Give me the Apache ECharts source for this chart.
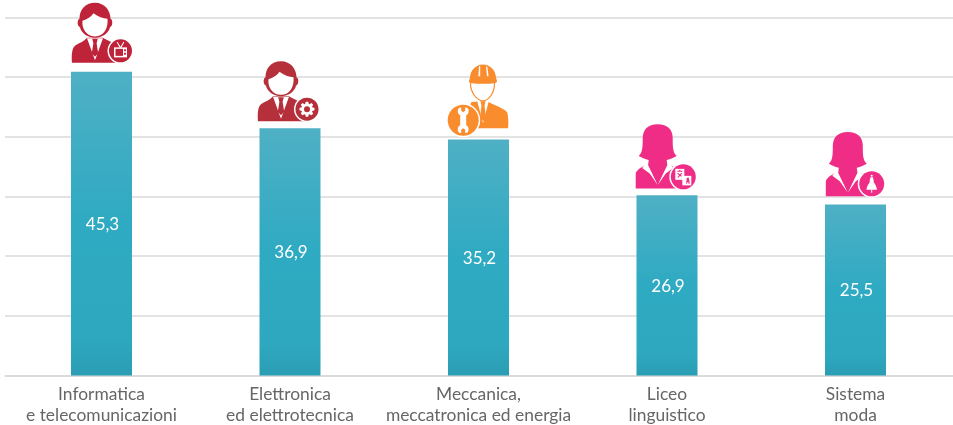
<!DOCTYPE html>
<html>
<head>
<meta charset="utf-8">
<style>html,body{margin:0;padding:0;background:#fff}#c{width:953px;height:425px}</style>
<script src="https://cdn.jsdelivr.net/npm/echarts@6/dist/echarts.min.js"></script>
</head>
<body>
<div id="c"></div>
<script>
const categories = ['Informatica\ne telecomunicazioni','Elettronica\ned elettrotecnica','Meccanica,\nmeccatronica ed energia','Liceo\nlinguistico','Sistema\nmoda'];
const values = [45.3, 36.9, 35.2, 26.9, 25.5];
const figures = ['man','man','worker','woman','woman'];
const badges = ['tv','gear','wrench','translate','dress'];

const WHITE = '#fff';
const iconStyle = [
  {color:'#bf2339', person:[-6.5,-9], badge:[19,-21], r:11.5},
  {color:'#b5303a', person:[-9,-7], badge:[17,-19], r:11.5},
  {color:'#f98c2c', person:[4.5,-11.3], badge:[-15.3,-19.3], r:15.5},
  {color:'#f02d86', person:[-9.3,-6.7], badge:[16.3,-18.3], r:12.5},
  {color:'#f02d86', person:[-7.7,-8.3], badge:[16.2,-20.7], r:12.5}
];
function p(d, fill, extra){ return Object.assign({type:'path', shape:{pathData:d}, style:{fill:fill}}, extra||{}); }

function figure(kind, c){
  if(kind==='man') return [
    p('M-23,0 C-23.5,-6 -23.5,-14 -20,-17 C-16,-20 -11,-21 -8,-25 L8,-25 C12,-22 20,-20 22,-17 L24,0 Z', c),
    p('M-8,-24.5 L0,-2.5 L8,-24.5 Z', WHITE),
    p('M-2.8,-24 L2.8,-24 L1.6,-19.5 L3.2,-9.5 L0,-6 L-3.2,-9.5 L-1.6,-19.5 Z', c),
    p('M0,-60 C10,-60 15.5,-52 15.5,-44 C18,-43 18,-37 15,-35.5 C14,-30.5 8,-25 0,-25 C-8,-25 -14,-30.5 -15,-35.5 C-18,-37 -18,-43 -15.5,-44 C-15.5,-53 -10,-60 0,-60 Z', c),
    p('M-12.5,-42 C-7,-44 -3.5,-46 -1.5,-49.5 C3,-46 8,-44.5 12.5,-44 C13.5,-35 9,-26.3 0,-26.3 C-9,-26.3 -13.5,-35 -12.5,-42 Z', WHITE)
  ];
  if(kind==='worker') return [
    p('M-12,-26 L-4,-27 L4,-27 L10,-24 C16,-21 23,-19 24.5,-15 C25.5,-9 25.5,-3 25,0 L-16,0 Z', c),
    p('M-6,-28 L0,-5 L6,-28 Z', WHITE),
    p('M-2.6,-27 L2.6,-27 L1.5,-22.5 L3,-11 L0,-7 L-3,-11 L-1.5,-22.5 Z', c),
    p('M-12.5,-46 C-13,-36 -6,-27.5 0,-27.5 C6,-27.5 12,-36 11.5,-46 Z', WHITE, {style:{fill:WHITE, stroke:c, lineWidth:1.2}}),
    p('M-14,-47 L-13,-51 C-12.5,-58 -7,-63.7 0,-63.7 C7,-63.7 12.5,-58 13,-51 L14,-47 C14,-45 10,-44.5 0,-44.5 C-10,-44.5 -14,-45 -14,-47 Z', c),
    p('M-4,-62 L-2.8,-62 L-2.8,-52 L-4.6,-52 Z M3,-62 L4.4,-61 L5.6,-52 L4,-52 Z', WHITE)
  ];
  return [
    p('M-22,0 L-22,-14 C-22,-18 -18,-20 -12,-24 L12,-24 C18,-20 22,-18 22,-14 L22,0 Z', c),
    p('M-11,-26.5 L0,-3.5 L-8,-15 L-15.5,-20.5 Z', WHITE),
    p('M11,-26.5 L0,-3.5 L8,-15 L15.5,-20.5 Z', WHITE),
    p('M0,-64.3 C10,-64.3 15,-59 15,-50 C15,-42 15,-36 19,-32.5 C15,-30 11,-29 9,-28.5 L9.5,-24 L0,-4.5 L-9.5,-24 L-9,-28.5 C-11,-29 -15,-30 -19,-32.5 C-15,-36 -15,-42 -15,-50 C-15,-59 -10,-64.3 0,-64.3 Z', c)
  ];
}

function gearPath(teeth, ro, ri){
  let d = '';
  const step = Math.PI*2/teeth;
  for(let i=0;i<teeth;i++){
    const a = i*step;
    const pts = [[ri,a-step*0.42],[ro,a-step*0.2],[ro,a+step*0.2],[ri,a+step*0.42]];
    pts.forEach((q,k)=>{ d += ((i===0&&k===0)?'M':'L') + (q[0]*Math.cos(q[1])).toFixed(2)+','+(q[0]*Math.sin(q[1])).toFixed(2)+' '; });
  }
  return d+'Z';
}

function glyph(kind, c){
  if(kind==='tv') return [
    p('M-6.5,-3.5 L6.5,-3.5 L6.5,6.5 L-6.5,6.5 Z', WHITE),
    p('M-5,-2 L2.5,-2 L2.5,5 L-5,5 Z', c),
    p('M3.6,-1.5 L5.4,-1.5 L5.4,0.5 L3.6,0.5 Z M3.6,2 L5.4,2 L5.4,4 L3.6,4 Z', c),
    p('M-3.8,-8.5 L-3,-9 L0,-4 L3,-9 L3.8,-8.5 L0.8,-3 L-0.8,-3 Z', WHITE)
  ];
  if(kind==='gear') return [
    p(gearPath(8,7.6,5.6), WHITE),
    {type:'circle', shape:{cx:0,cy:0,r:3}, style:{fill:c}}
  ];
  if(kind==='wrench') return [
    p('M-3,-3 L-3,-5 C-5.5,-6 -6.5,-10 -4,-12.5 L-2,-12.8 L-2,-9.5 L0,-8 L2,-9.5 L2,-12.8 L4,-12.5 C6.5,-10 5.5,-6 3,-5 L3,5 C5.5,6 6.5,10 4,12.5 L2,12.8 L2,9.5 L0,8 L-2,9.5 L-2,12.8 L-4,12.5 C-6.5,10 -5.5,6 -3,5 Z', WHITE)
  ];
  if(kind==='translate') return [
    p('M-8,-8 L1,-8 L1,3 L-8,3 Z', WHITE),
    p('M-6,-6 L-1,-6 L-1,-5 L-6,-5 Z M-4,-7 L-3,-7 L-3,-5 L-4,-5 Z M-5.5,-4 L-1.5,-1 L-2,0 L-6,-3 Z M-2,-4 L-1,-3.5 L-5,1 L-6,0.5 Z', c),
    p('M-1,-1 L8,-1 L8,8.5 L-1,8.5 Z', WHITE),
    p('M2.8,7 L3.5,1 L5.5,1 L6.5,7 L5.3,7 L5.1,5.3 L3.9,5.3 L3.7,7 Z', c)
  ];
  return [
    {type:'circle', shape:{cx:0,cy:-8,r:1}, style:{fill:WHITE}},
    p('M-1.3,-6.5 L1.3,-6.5 C1.8,-4 2.2,-3 2,-1.5 C4,1 5,3.5 5.3,6 L-5.3,6 C-5,3.5 -4,1 -2,-1.5 C-2.2,-3 -1.8,-4 -1.3,-6.5 Z', WHITE),
    p('M-0.5,6 L0.5,6 L0.5,9 L-0.5,9 Z', WHITE)
  ];
}

function renderIcon(params, api){
  const i = params.dataIndex;
  const top = api.coord([api.value(0), api.value(1)]);
  const s = iconStyle[i];
  return {
    type:'group', x:top[0], y:top[1],
    children:[
      {type:'group', x:s.person[0], y:s.person[1], children:figure(figures[i], s.color)},
      {type:'group', x:s.badge[0], y:s.badge[1], children:[
        {type:'circle', shape:{cx:0,cy:0,r:s.r+1.5}, style:{fill:WHITE}},
        {type:'circle', shape:{cx:0,cy:0,r:s.r}, style:{fill:s.color}}
      ].concat(glyph(badges[i], s.color))}
    ]
  };
}

const points = values.map((v,i)=>[i,v]);
const chart = echarts.init(document.getElementById('c'), null, {renderer:'canvas'});
chart.setOption({
  animation:false,
  backgroundColor:'#fff',
  grid:{left:5, right:0, top:17.6, bottom:49.6, containLabel:false, outerBoundsMode:'none'},
  xAxis:{
    type:'value', min:-0.5119, max:4.5172,
    axisLine:{show:true, onZero:false, lineStyle:{color:'#d9d9d9', width:1.5}},
    axisTick:{show:false}, splitLine:{show:false},
    axisLabel:{
      customValues:[0,1,2,3,4],
      formatter:v=>categories[v],
      color:'#666', fontFamily:'Lato', fontSize:17.4, lineHeight:21, margin:8, align:'center'
    }
  },
  yAxis:{
    type:'value', min:0, max:53.4, interval:8.9,
    axisLine:{show:false}, axisTick:{show:false}, axisLabel:{show:false},
    splitLine:{show:true, lineStyle:{color:'#e3e3e3', width:2}}
  },
  series:[
    {
      type:'bar', data:points, barWidth:61,
      itemStyle:{color:{type:'linear',x:0,y:0,x2:0,y2:1,colorStops:[
        {offset:0,color:'#4fb0c5'},{offset:0.5,color:'#2eaac2'},{offset:0.88,color:'#2ea8bf'},{offset:1,color:'#2a9db3'}]}},
      label:{show:true, position:'inside', distance:0, offset:[1,1], color:'#fff', fontFamily:'Lato', fontSize:17,
        formatter:o=>o.value[1].toFixed(1).replace('.',',')}
    },
    {type:'custom', data:points, renderItem:renderIcon, z:5, silent:true, clip:false}
  ]
});
</script>
</body>
</html>
